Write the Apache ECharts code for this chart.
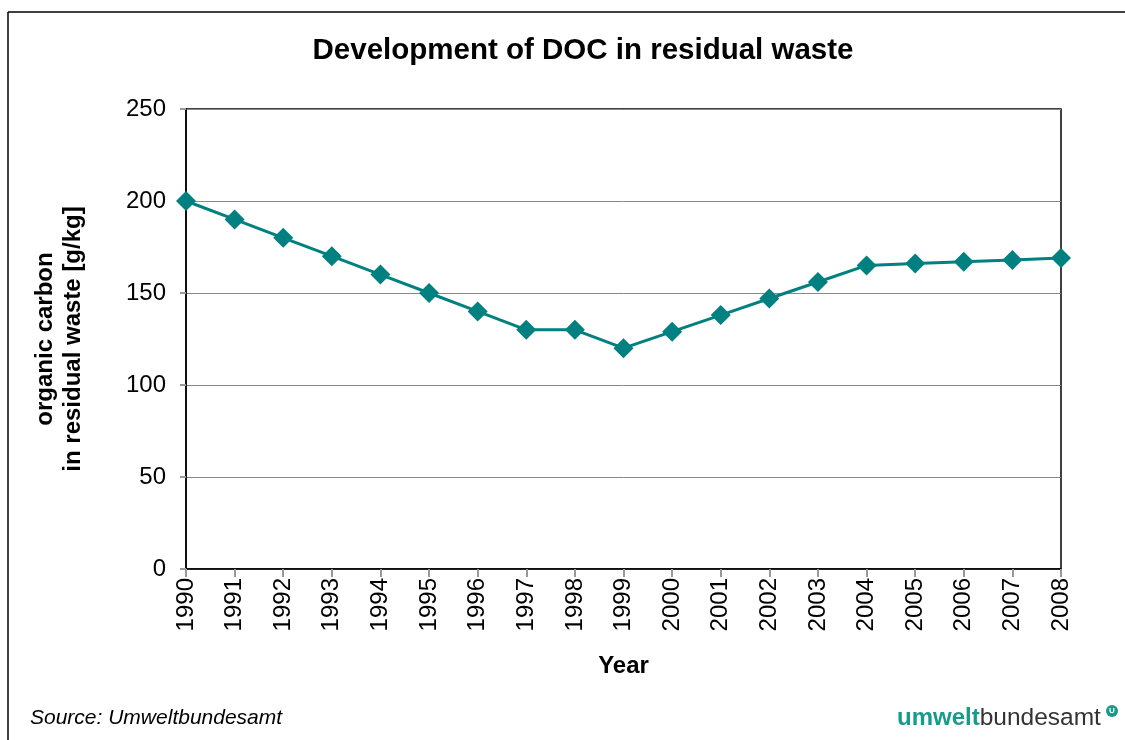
<!DOCTYPE html>
<html><head><meta charset="utf-8">
<script src="https://cdn.jsdelivr.net/npm/echarts@6/dist/echarts.min.js"></script>
<style>html,body{margin:0;padding:0;background:#fff}#c{width:1125px;height:740px}</style>
</head><body><div id="c"></div>
<script>
const years = ['1990','1991','1992','1993','1994','1995','1996','1997','1998','1999','2000','2001','2002','2003','2004','2005','2006','2007','2008'];
const doc = [200,190,180,170,160,150,140,130,130,120,129,138,147,156,165,166,167,168,169];
const yTicks = [0,50,100,150,200,250];

const chart = echarts.init(document.getElementById('c'));
const F = '"Liberation Sans", Arial, sans-serif';
chart.setOption({
  animation: false,
  backgroundColor: '#fff',
  title: {
    text: 'Development of DOC in residual waste',
    left: 578, top: 31, textAlign: 'center',
    textStyle: {fontFamily: F, fontSize: 29.5, fontWeight: 'bold', color: '#000'}
  },
  grid: {left: 186, right: 64, top: 109, bottom: 171, show: true, borderColor: '#000', borderWidth: 1.5, containLabel: false, outerBoundsMode: 'none'},
  xAxis: {
    type: 'category', data: years, boundaryGap: false,
    name: 'Year', nameLocation: 'middle', nameGap: 85,
    nameTextStyle: {fontFamily: F, fontSize: 24, fontWeight: 'bold', color: '#000'},
    axisLine: {lineStyle: {color: '#000', width: 1.5}},
    axisTick: {show: true, length: 8, lineStyle: {color: '#999', width: 2}},
    axisLabel: {rotate: 90, fontFamily: F, fontSize: 24, color: '#000', margin: 9},
    splitLine: {show: false}
  },
  yAxis: {
    type: 'value', min: yTicks[0], max: yTicks[yTicks.length-1], interval: 50,
    name: 'organic carbon\nin residual waste [g/kg]', nameLocation: 'middle', nameGap: 99,
    nameTextStyle: {fontFamily: F, fontSize: 24, fontWeight: 'bold', color: '#000', lineHeight: 28},
    axisLine: {show: true, lineStyle: {color: '#000', width: 1.5}},
    axisTick: {show: true, length: 6, lineStyle: {color: '#999', width: 2}},
    axisLabel: {fontFamily: F, fontSize: 24, color: '#000', margin: 20},
    splitLine: {show: true, lineStyle: {color: '#888', width: 1}}
  },
  series: [{
    type: 'line', data: doc,
    symbol: 'diamond', symbolSize: 20,
    lineStyle: {color: '#008080', width: 3},
    itemStyle: {color: '#008080'}
  }],
  graphic: [
    {type: 'line', shape: {x1: 8, y1: 12, x2: 1125, y2: 12}, style: {stroke: '#000', lineWidth: 1.5}},
    {type: 'line', shape: {x1: 8, y1: 12, x2: 8, y2: 740}, style: {stroke: '#000', lineWidth: 1.5}},
    {type: 'text', left: 30, top: 708, style: {text: 'Source: Umweltbundesamt', font: 'italic 21px "Liberation Sans", Arial, sans-serif', fill: '#000'}},
    {type: 'text', left: 897, top: 706, style: {
      text: '{a|umwelt}{b|bundesamt}',
      rich: {
        a: {fontFamily: F, fontSize: 24, fontWeight: 'bold', fill: '#1a9a8a', color: '#1a9a8a'},
        b: {fontFamily: F, fontSize: 24.5, fill: '#333', color: '#333'}
      }
    }},
    {type: 'circle', shape: {cx: 1112, cy: 711, r: 6}, style: {fill: '#1a9a8a'}},
    {type: 'text', x: 1112, y: 711, style: {text: 'U', font: 'bold 8px "Liberation Sans", sans-serif', fill: '#fff', align: 'center', verticalAlign: 'middle'}}
  ]
});
</script></body></html>
